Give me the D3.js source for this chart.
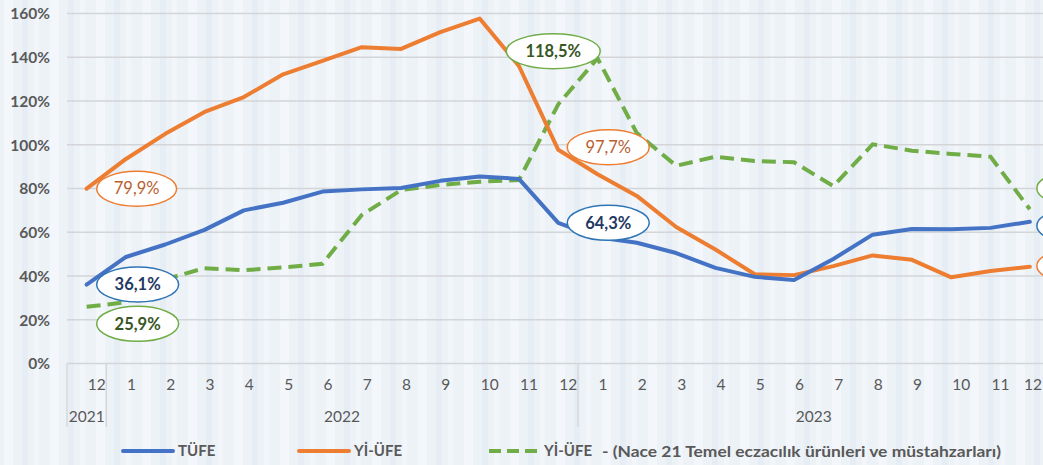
<!DOCTYPE html>
<html>
<head>
<meta charset="utf-8">
<script src="https://cdn.jsdelivr.net/npm/d3@7"></script>
<style>
  html, body { margin: 0; padding: 0; background: #EEF2F7; overflow: hidden; }
  svg { display: block; }
</style>
</head>
<body>
<svg id="chart" width="1043" height="465"></svg>
<script>
// ---- data ----
const months = ["12","1","2","3","4","5","6","7","8","9","10","11","12","1","2","3","4","5","6","7","8","9","10","11","12"];
const years = [{label:"2021", from:0, to:0},{label:"2022", from:1, to:12},{label:"2023", from:13, to:24}];
const tufe = [36.1,48.7,54.4,61.1,70.0,73.5,78.6,79.6,80.2,83.5,85.5,84.4,64.3,57.7,55.2,50.5,43.7,39.6,38.2,47.8,58.9,61.5,61.4,62.0,64.8];
const yiufe = [79.9,93.5,105.0,115.0,121.8,132.2,138.3,144.6,143.8,151.5,157.7,136.0,97.7,86.5,76.6,62.4,52.1,40.8,40.4,44.5,49.4,47.4,39.4,42.3,44.2];
const nace21 = [25.9,28.0,38.5,43.6,42.6,43.9,45.6,67.9,79.3,81.6,83.1,83.9,118.5,139.5,105.3,90.4,94.5,92.6,92.0,81.1,100.2,97.3,95.8,94.5,70.5];
const yTicks = [0,20,40,60,80,100,120,140,160];
const seriesNames = ["TÜFE","Yİ-ÜFE","Yİ-ÜFE  - (Nace 21 Temel eczacılık ürünleri ve müstahzarları)"];
const labelText = {tufe:["36,1%","64,3%","64,8%"], yiufe:["79,9%","97,7%","44,2%"], nace21:["25,9%","118,5%","70,5%"]};

// ---- setup ----
const svg = d3.select("#chart");
const W = 1043, H = 465;
const FONT = "Lato, 'Open Sans', sans-serif";
const BLUE = "#4472C4", ORANGE = "#ED7D31", GREEN = "#70AD47";

// background stripes (decorative)
const defs = svg.append("defs");
const pat = defs.append("pattern").attr("id","stripes").attr("patternUnits","userSpaceOnUse")
  .attr("width",46).attr("height",465);
pat.append("rect").attr("width",46).attr("height",465).attr("fill","#EDF2F7");
pat.append("rect").attr("x",4).attr("width",9).attr("height",465).attr("fill","#F3F6FA");
pat.append("rect").attr("x",22).attr("width",6).attr("height",465).attr("fill","#E6EDF5");
pat.append("rect").attr("x",34).attr("width",5).attr("height",465).attr("fill","#F2F5F9");
svg.append("rect").attr("width",W).attr("height",H).attr("fill","url(#stripes)");

const x = d3.scaleBand().domain(d3.range(months.length)).range([67, 67 + 25*39.3]).paddingInner(0).paddingOuter(0);
const y = d3.scaleLinear().domain([0,160]).range([363.5, 13.5]);
const cx = i => x(i) + x.bandwidth()/2;

// gridlines
svg.append("g").selectAll("line").data(yTicks).join("line")
  .attr("x1", x.range()[0]).attr("x2", x.range()[1])
  .attr("y1", d => y(d)).attr("y2", d => y(d))
  .attr("stroke", "#D3D5D8").attr("stroke-width", 1.3);

// y axis labels
const yAxis = d3.axisLeft(y).tickValues(yTicks).tickFormat(d => d + "%").tickSize(0).tickPadding(0);
const gy = svg.append("g").attr("transform","translate(50,0)").call(yAxis);
gy.select(".domain").remove();
gy.selectAll("text").attr("font-family",FONT).attr("font-size","15.5px").attr("font-weight","bold")
  .attr("fill","#595959").attr("dy","0.35em");

// x axis: month labels
const xAxis = d3.axisBottom(x).tickFormat(i => months[i]).tickSize(0).tickPadding(0);
const gx = svg.append("g").attr("transform","translate(0,363.5)").call(xAxis);
gx.select(".domain").remove();
gx.selectAll("text").attr("font-family",FONT).attr("font-size","15.5px").attr("fill","#595959")
  .attr("text-anchor","start").attr("dx","1px").attr("y",21.5).attr("dy","0.35em");
// keep the last label inside the picture
gx.selectAll(".tick").each(function() {
  const t = d3.select(this).select("text").node();
  const b = t.getBoundingClientRect();
  if (b.right > W - 1) {
    d3.select(t).attr("dx", (1 - (b.right - (W - 1))) + "px");
  }
});

// year separators
const sepX = [x(0), x(1), x(13)];
svg.append("g").selectAll("line").data(sepX).join("line")
  .attr("x1", d => d).attr("x2", d => d).attr("y1", 363.5).attr("y2", 427)
  .attr("stroke", "#D3D5D8").attr("stroke-width", 1.3);

// year labels
svg.append("g").selectAll("text").data(years).join("text")
  .attr("x", d => (x(d.from) + x(d.to) + x.bandwidth())/2)
  .attr("y", 417).attr("dy","0.35em").attr("text-anchor","middle")
  .attr("font-family",FONT).attr("font-size","15.5px").attr("fill","#595959")
  .text(d => d.label);

// lines
const line = d3.line().x((d,i) => cx(i)).y(d => y(d));
svg.append("path").datum(nace21).attr("d", line).attr("fill","none").attr("stroke",GREEN)
  .attr("stroke-width",4).attr("stroke-dasharray","14,7");
svg.append("path").datum(yiufe).attr("d", line).attr("fill","none").attr("stroke",ORANGE)
  .attr("stroke-width",4).attr("stroke-linejoin","round").attr("stroke-linecap","round");
svg.append("path").datum(tufe).attr("d", line).attr("fill","none").attr("stroke",BLUE)
  .attr("stroke-width",4).attr("stroke-linejoin","round").attr("stroke-linecap","round");

// data label callouts
const callouts = [
  {s:yiufe, i:0, dx:50, dy:0, rx:40, t:labelText.yiufe[0], stroke:ORANGE, col:"#B9602F", bold:false},
  {s:tufe, i:0, dx:51, dy:0, rx:41, t:labelText.tufe[0], stroke:"#2E75B6", col:"#1F3864", bold:true},
  {s:nace21, i:0, dx:51, dy:17, rx:41, t:labelText.nace21[0], stroke:GREEN, col:"#375623", bold:true},
  {s:nace21, i:12, dx:-5, dy:-53, rx:47, t:labelText.nace21[1], stroke:GREEN, col:"#375623", bold:true},
  {s:yiufe, i:12, dx:50, dy:-2.5, rx:41, t:labelText.yiufe[1], stroke:ORANGE, col:"#B9602F", bold:false},
  {s:tufe, i:12, dx:50, dy:0, rx:41, t:labelText.tufe[1], stroke:"#2E75B6", col:"#1F3864", bold:true},
  {s:nace21, i:24, dx:48, dy:-21, rx:41, t:null, stroke:GREEN},
  {s:tufe, i:24, dx:48, dy:4, rx:41, t:null, stroke:"#2E75B6"},
  {s:yiufe, i:24, dx:48, dy:-1, rx:41, t:null, stroke:ORANGE}
];
const cg = svg.append("g");
callouts.forEach(c => {
  const px = cx(c.i) + c.dx, py = y(c.s[c.i]) + c.dy;
  cg.append("ellipse").attr("cx",px).attr("cy",py).attr("rx",c.rx).attr("ry",17.5)
    .attr("fill","#FFFFFF").attr("stroke",c.stroke).attr("stroke-width",1.5);
  if (c.t) {
    cg.append("text").attr("x",px).attr("y",py).attr("dy","0.35em").attr("text-anchor","middle")
      .attr("font-family",FONT).attr("font-size","16.5px").attr("font-weight", c.bold ? "bold" : "normal")
      .attr("fill",c.col).text(c.t);
  }
});

// legend
const legend = [
  {name:seriesNames[0], x:123, color:BLUE, dash:null},
  {name:seriesNames[1], x:299, color:ORANGE, dash:null},
  {name:seriesNames[2], x:489, color:GREEN, dash:"12,6"}
];
const lg = svg.append("g");
legend.forEach(l => {
  lg.append("line").attr("x1",l.x).attr("x2",l.x+50).attr("y1",451).attr("y2",451)
    .attr("stroke",l.color).attr("stroke-width",4)
    .attr("stroke-linecap", l.dash ? "butt" : "round")
    .attr("stroke-dasharray", l.dash);
  const parts = l.name.split(/(?=\s\s-)/);
  const t0 = lg.append("text").attr("x",l.x+55).attr("y",451).attr("dy","0.35em")
    .attr("font-family",FONT).attr("font-size","15px").attr("font-weight","bold")
    .attr("fill","#595959").text(parts[0]);
  if (parts.length > 1) {
    const startX = l.x + 55 + t0.node().getComputedTextLength() + 10;
    lg.append("text").attr("x",startX).attr("y",451).attr("dy","0.35em")
      .attr("font-family",FONT).attr("font-size","16px").attr("font-weight","bold")
      .attr("fill","#595959")
      .attr("textLength", 1001 - startX).attr("lengthAdjust","spacingAndGlyphs")
      .text(parts[1].trim());
  }
});
</script>
</body>
</html>
